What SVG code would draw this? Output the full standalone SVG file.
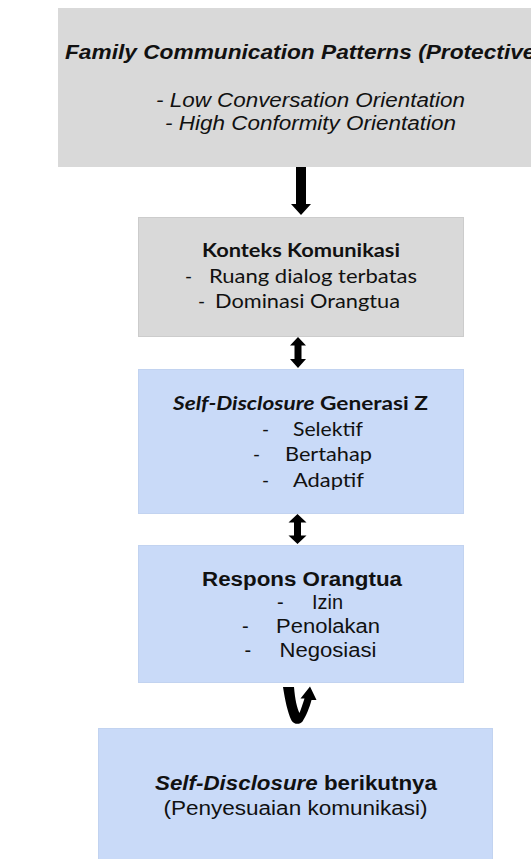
<svg xmlns="http://www.w3.org/2000/svg" width="531" height="859" viewBox="0 0 531 859">
<style>
.gray{fill:#d9d9d9}
.gray2{fill:#d9d9d9;stroke:#cccccc;stroke-width:1}
.blue{fill:#c9daf8;stroke:#c2d3f0;stroke-width:1}
.ar{font-family:"Liberation Sans",Arial,sans-serif;fill:#111;font-size:20px}
.ca{font-family:Lato,"Open Sans",sans-serif;fill:#111;font-size:19px}
.b{font-weight:bold}
.i{font-style:italic}
.conn{fill:#000}
</style>
<rect width="531" height="859" fill="#ffffff"/>
<g id="node-fcp">
<rect class="gray" x="58" y="8" width="520" height="159"/>
<text class="ar b i" x="65" y="58.5" textLength="478" lengthAdjust="spacingAndGlyphs">Family Communication Patterns (Protective)</text>
<text class="ar i" x="156" y="107" textLength="309" lengthAdjust="spacingAndGlyphs">- Low Conversation Orientation</text>
<text class="ar i" x="165" y="130" textLength="291" lengthAdjust="spacingAndGlyphs">- High Conformity Orientation</text>
</g>
<g id="node-konteks">
<rect class="gray2" x="138.5" y="217.5" width="325" height="119"/>
<text class="ca b" x="202" y="257" textLength="198" lengthAdjust="spacingAndGlyphs">Konteks Komunikasi</text>
<text class="ca" x="185" y="283">-</text>
<text class="ca" x="209" y="283" textLength="208" lengthAdjust="spacingAndGlyphs">Ruang dialog terbatas</text>
<text class="ca" x="198" y="308">-</text>
<text class="ca" x="215" y="308" textLength="185" lengthAdjust="spacingAndGlyphs">Dominasi Orangtua</text>
</g>
<g id="node-selfdisclosure">
<rect class="blue" x="138.5" y="369.5" width="325" height="144"/>
<text class="ca b" x="173" y="410" textLength="255" lengthAdjust="spacingAndGlyphs"><tspan class="i">Self-Disclosure</tspan> Generasi Z</text>
<text class="ca" x="262" y="436">-</text>
<text class="ca" x="293" y="436" textLength="70" lengthAdjust="spacingAndGlyphs">Selektif</text>
<text class="ca" x="253" y="461">-</text>
<text class="ca" x="285" y="461" textLength="87" lengthAdjust="spacingAndGlyphs">Bertahap</text>
<text class="ca" x="262" y="486.5">-</text>
<text class="ca" x="293" y="486.5" textLength="71" lengthAdjust="spacingAndGlyphs">Adaptif</text>
</g>
<g id="node-respons">
<rect class="blue" x="138.5" y="545.5" width="325" height="137"/>
<text class="ar b" x="202" y="585.5" textLength="200" lengthAdjust="spacingAndGlyphs">Respons Orangtua</text>
<text class="ar" x="277" y="609">-</text>
<text class="ar" x="312" y="609" textLength="31" lengthAdjust="spacingAndGlyphs">Izin</text>
<text class="ar" x="242" y="633">-</text>
<text class="ar" x="276" y="633" textLength="104" lengthAdjust="spacingAndGlyphs">Penolakan</text>
<text class="ar" x="244.5" y="657">-</text>
<text class="ar" x="279.5" y="657" textLength="97" lengthAdjust="spacingAndGlyphs">Negosiasi</text>
</g>
<g id="node-berikutnya">
<rect class="blue" x="98.5" y="728.5" width="394" height="140"/>
<text class="ar b" x="155" y="790" textLength="282" lengthAdjust="spacingAndGlyphs"><tspan class="i">Self-Disclosure</tspan> berikutnya</text>
<text class="ar" x="163.5" y="814.5" textLength="264" lengthAdjust="spacingAndGlyphs">(Penyesuaian komunikasi)</text>
</g>
<g id="connectors">
<polygon class="conn" points="296,167 306,167 306,204 311,204 301,215 291,204 296,204"/>
<polygon class="conn" points="298,337 306,345.5 301.5,345.5 301.5,359 306,359 298,368 290,359 294.5,359 294.5,345.5 290,345.5"/>
<polygon class="conn" points="297.5,514 306.5,522.5 301,522.5 301,535.5 306.5,535.5 297.5,544 288.5,535.5 294,535.5 294,522.5 288.5,522.5"/>
<path class="conn" d="M283,687 L294,687 C295,699 297,708 299.5,713 C301.5,708 303,703 304.5,698.5 L300.5,698.5 L310,686.5 L316.5,700 L311.5,700 C309.5,708 306,716 302.5,721.5 C299.5,725 294,724.5 291.5,720.5 C287.5,712 285,700 283,687 Z"/>
</g>
</svg>
